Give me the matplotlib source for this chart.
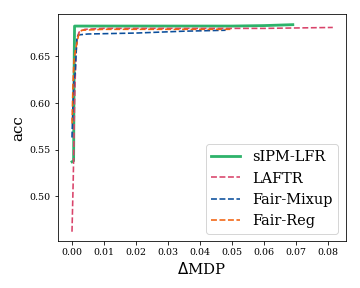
import numpy as np
import matplotlib.pyplot as plt

plt.rcParams['font.family'] = 'DejaVu Serif'

# sIPM-LFR
sipm_x = [0.0000, 0.0005, 0.0006, 0.0007, 0.0008, 0.0100, 0.0300, 0.0500, 0.0600, 0.0690]
sipm_y = [0.537, 0.538, 0.600, 0.650, 0.6825, 0.6825, 0.6825, 0.6825, 0.6830, 0.6840]

# LAFTR
laftr_x = [0.0000, 0.0004, 0.0008, 0.0012, 0.0016, 0.0022, 0.0040, 0.0100, 0.0300, 0.0600, 0.0815]
laftr_y = [0.462, 0.520, 0.600, 0.650, 0.670, 0.676, 0.679, 0.680, 0.680, 0.680, 0.681]

# Fair-Mixup
mixup_x = [0.0000, 0.0003, 0.0006, 0.0010, 0.0015, 0.0020, 0.0050, 0.0200, 0.0350, 0.0480]
mixup_y = [0.563, 0.600, 0.625, 0.632, 0.668, 0.673, 0.674, 0.675, 0.677, 0.678]

# Fair-Reg
reg_x = [0.0000, 0.0003, 0.0006, 0.0010, 0.0020, 0.0030, 0.0100, 0.0300, 0.0500]
reg_y = [0.578, 0.620, 0.645, 0.655, 0.672, 0.678, 0.679, 0.679, 0.679]

fig, ax = plt.subplots(figsize=(5, 4), dpi=72)

ax.plot(sipm_x, sipm_y, color='#2eb36b', lw=2.8, label='sIPM-LFR')
ax.plot(laftr_x, laftr_y, color='#d9436a', lw=1.6, ls='--', label='LAFTR')
ax.plot(mixup_x, mixup_y, color='#0a4e9c', lw=1.6, ls='--', label='Fair-Mixup')
ax.plot(reg_x, reg_y, color='#f2620f', lw=1.6, ls='--', label='Fair-Reg')

ax.set_xlim(-0.0045, 0.0855)
ax.set_ylim(0.452, 0.695)
ax.set_xticks(np.arange(0, 0.081, 0.01))
ax.set_yticks([0.50, 0.55, 0.60, 0.65])
ax.tick_params(labelsize=9.5)
ax.set_xlabel(r'$\Delta$MDP', fontsize=15)
ax.set_ylabel('acc', fontsize=15)
ax.legend(fontsize=14.5, loc='lower right')

plt.subplots_adjust(left=0.16, right=0.96, top=0.95, bottom=0.163)
plt.savefig('out.png')
